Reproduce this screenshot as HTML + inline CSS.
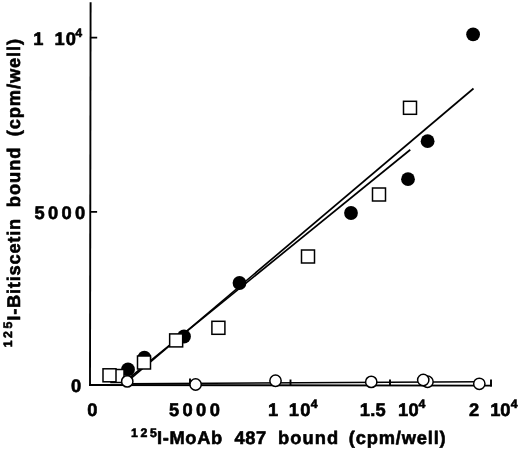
<!DOCTYPE html>
<html><head><meta charset="utf-8">
<style>
html,body{margin:0;padding:0;background:#fff;}
body{width:520px;height:452px;overflow:hidden;}
svg{display:block;}
text{font-family:"Liberation Sans",sans-serif;font-weight:bold;fill:#000;stroke:#000;stroke-width:0.6px;stroke-linejoin:round;text-rendering:geometricPrecision;}
</style></head><body>
<svg width="520" height="452" viewBox="0 0 520 452">
<rect width="520" height="452" fill="#fff"/>
<g stroke="#000" stroke-width="1.9" fill="none">
<path d="M90.6 2.3 L90 386"/>
<path d="M89.05 385 L491.9 385.65"/>
<path d="M90.5 37.6 H97.2 M90.3 211.9 H97.1"/>
<path d="M190 385 V378.6 M290.5 385.3 V379.4 M390 385.5 V379.4 M491 386.5 V379.4"/>
</g>
<g fill="#000"><circle cx="128" cy="369.4" r="6.9"/><circle cx="144.4" cy="357.7" r="6.9"/><circle cx="184" cy="336.5" r="6.9"/><circle cx="239.5" cy="283" r="6.9"/><circle cx="351" cy="213" r="6.9"/><circle cx="408" cy="179.2" r="6.9"/><circle cx="427.6" cy="141.2" r="6.9"/><circle cx="473.1" cy="34.3" r="6.9"/></g>
<g stroke="#000" stroke-width="1.7" fill="none">
<path d="M128 380.8 L473.5 88.5"/>
<path d="M122 383.8 L410.25 149.75"/>
<path d="M127 383.8 L479 381.8" stroke-width="1.5"/>
</g>
<g fill="#fff" stroke="#000" stroke-width="1.5"><rect x="111.00" y="369.50" width="13.0" height="13.0"/><rect x="103.00" y="368.80" width="13.0" height="13.0"/><rect x="137.50" y="356.00" width="13.0" height="13.0"/><rect x="169.65" y="333.90" width="13.0" height="13.0"/><rect x="211.90" y="321.30" width="13.0" height="13.0"/><rect x="301.50" y="250.00" width="13.0" height="13.0"/><rect x="372.50" y="188.00" width="13.0" height="13.0"/><rect x="403.50" y="101.30" width="13.0" height="13.0"/></g>
<g fill="#fff" stroke="#000" stroke-width="1.5"><circle cx="127.25" cy="381.4" r="5.65"/><circle cx="195.6" cy="384.5" r="5.65"/><circle cx="275.5" cy="380.75" r="5.65"/><circle cx="371.25" cy="381.9" r="5.65"/><circle cx="427.5" cy="381.75" r="5.65"/><circle cx="423.25" cy="380" r="5.65"/><circle cx="479.3" cy="383.8" r="5.65"/></g>
<text transform="translate(34.6 219)" font-size="18.3" letter-spacing="3.3">5000</text>
<text transform="translate(71 392.0)" font-size="18.3" letter-spacing="0">0</text>
<text transform="translate(33.2 45)" font-size="18.3" letter-spacing="0">1</text>
<text transform="translate(54.5 45)" font-size="18.3" letter-spacing="1.08">10</text>
<text transform="translate(75.3 36.8)" font-size="12.3" letter-spacing="0">4</text>
<text transform="translate(87.35 416.3)" font-size="18.3" letter-spacing="0">0</text>
<text transform="translate(168.9 416.3)" font-size="18.3" letter-spacing="3.42">5000</text>
<text transform="translate(267.9 416.3)" font-size="18.3" letter-spacing="0">1</text>
<text transform="translate(288.8 416.3)" font-size="18.3" letter-spacing="1.4">10</text>
<text transform="translate(310.7 407.8)" font-size="12.3" letter-spacing="0">4</text>
<text transform="translate(359.8 416.3)" font-size="18.3" letter-spacing="0.27">1.5</text>
<text transform="translate(398 416.3)" font-size="18.3" letter-spacing="0.33">10</text>
<text transform="translate(418.5 407.8)" font-size="12.3" letter-spacing="0">4</text>
<text transform="translate(468.9 416.3)" font-size="18.3" letter-spacing="0">2</text>
<text transform="translate(490.2 416.3)" font-size="18.3" letter-spacing="0">10</text>
<text transform="translate(510.8 407.8)" font-size="12.3" letter-spacing="0">4</text>
<text transform="translate(131.1 436.6)" font-size="12.3" letter-spacing="2.61">125</text>
<text transform="translate(156.9 444.4)" font-size="18.3" letter-spacing="0.69">I-MoAb</text>
<text transform="translate(234.6 444.4)" font-size="18.3" letter-spacing="0.58">487</text>
<text transform="translate(277.9 444.4)" font-size="18.3" letter-spacing="1.11">bound</text>
<text transform="translate(348.75 444.4)" font-size="18.3" letter-spacing="0.84">(cpm/well)</text>
<g transform="translate(20.4,347.25) rotate(-90)">
<text transform="translate(0 -8.2)" font-size="12.3" letter-spacing="2.49">125</text>
<text transform="translate(26.6 0)" font-size="18.3" letter-spacing="0.76">I-Bitiscetin</text>
<text transform="translate(140 0)" font-size="18.3" letter-spacing="0.96">bound</text>
<text transform="translate(211.1 0)" font-size="18.3" letter-spacing="0.86">(cpm/well)</text>
</g>
</svg>
</body></html>
